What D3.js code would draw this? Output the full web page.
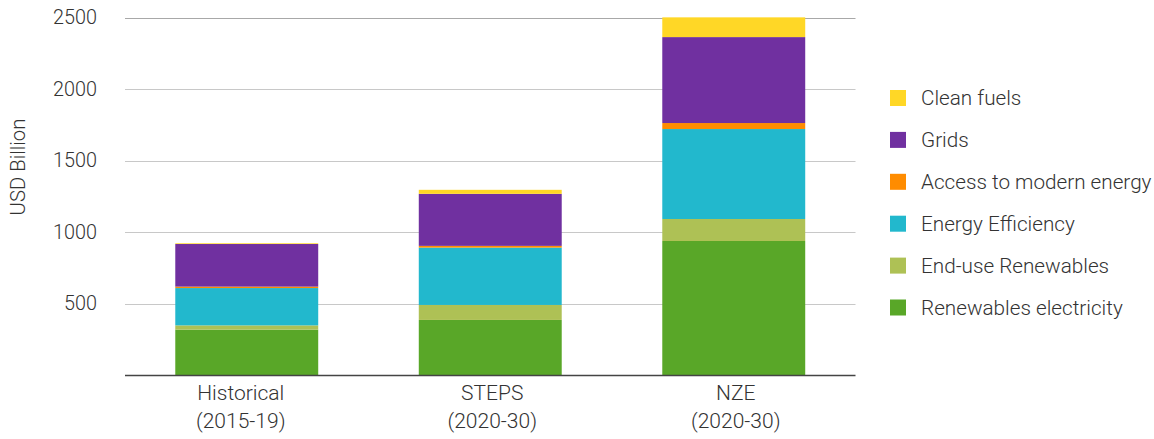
<!DOCTYPE html>
<html><head><meta charset="utf-8">
<script src="https://cdn.jsdelivr.net/npm/d3@7"></script>
<style>
body{margin:0;background:#fff;}
text{font-family:Roboto,"Noto Sans",sans-serif;font-weight:300;fill:#333;}
</style></head>
<body><svg id="c" width="1154" height="439"></svg>
<script>
const categories = [["Historical","(2015-19)"],["STEPS","(2020-30)"],["NZE","(2020-30)"]];
const seriesNames = ["Renewables electricity","End-use Renewables","Energy Efficiency","Access to modern energy","Grids","Clean fuels"];
const seriesColors = ["#59A728","#AEC155","#22B8CD","#FF8C00","#7030A0","#FFD726"];
const renewablesElectricity = [317, 385, 937];
const endUseRenewables = [30, 105, 154];
const energyEfficiency = [261, 401, 629];
const accessModernEnergy = [10, 12, 42];
const grids = [298, 364, 601];
const cleanFuels = [5, 28, 138];
const yTicks = [500, 1000, 1500, 2000, 2500];

const seriesValues = [renewablesElectricity, endUseRenewables, energyEfficiency, accessModernEnergy, grids, cleanFuels];
const svg = d3.select("#c");
const x = d3.scaleBand().domain(categories.map((c,i)=>i)).range([125, 855.5]).paddingInner(0.413).paddingOuter(0.2065);
const y = d3.scaleLinear().domain([0, 2500]).range([375, 17.5]);

// gridlines
svg.append("g").selectAll("line").data(yTicks).join("line")
  .attr("x1",125).attr("x2",855.5)
  .attr("y1",d=>Math.round(y(d))+0.5).attr("y2",d=>Math.round(y(d))+0.5)
  .attr("stroke",d=>d===2500?"#a8a8a8":"#c8c8c8").attr("stroke-width",1.2);

// tick labels
svg.append("g").selectAll("text").data(yTicks).join("text")
  .attr("x",97).attr("y",d=>y(d)).attr("dy","0.35em")
  .attr("text-anchor","end").style("font-size","19.8px").text(d=>d);

// stacked data
const table = categories.map((c,i)=>{const o={i}; seriesNames.forEach((s,k)=>o[s]=seriesValues[k][i]); return o;});
const stacked = d3.stack().keys(seriesNames)(table);
svg.append("g").selectAll("g").data(stacked).join("g")
  .attr("fill",(d,k)=>seriesColors[k])
  .selectAll("rect").data(d=>d).join("rect")
  .attr("x",d=>x(d.data.i)).attr("width",x.bandwidth())
  .attr("y",d=>y(d[1])).attr("height",d=>y(d[0])-y(d[1]));

// baseline
svg.append("line").attr("x1",125).attr("x2",855.5).attr("y1",375.5).attr("y2",375.5)
  .attr("stroke","#444").attr("stroke-width",1.5);

// category labels
const cl = svg.append("g").selectAll("text").data(categories).join("text")
  .attr("text-anchor","middle").style("font-size","21px")
  .attr("transform",(d,i)=>`translate(${x(i)+x.bandwidth()/2 + (i===0?-6:2)},0)`);
cl.append("tspan").attr("x",0).attr("y",400).text(d=>d[0]);
cl.append("tspan").attr("x",0).attr("y",428).text(d=>d[1]);

// y axis label
svg.append("text").attr("transform","translate(25,167) rotate(-90)")
  .attr("text-anchor","middle").style("font-size","20.3px").text("USD Billion");

// legend
const legendOrder = seriesNames.map((s,k)=>k).reverse();
const lg = svg.append("g").selectAll("g").data(legendOrder).join("g")
  .attr("transform",(k,j)=>`translate(890,${98 + j*41.9})`);
lg.append("rect").attr("x",0).attr("y",-8).attr("width",16).attr("height",16).attr("fill",k=>seriesColors[k]);
lg.append("text").attr("x",31).attr("y",0).attr("dy","0.35em").style("font-size","20.7px").text(k=>seriesNames[k]);
</script></body></html>
